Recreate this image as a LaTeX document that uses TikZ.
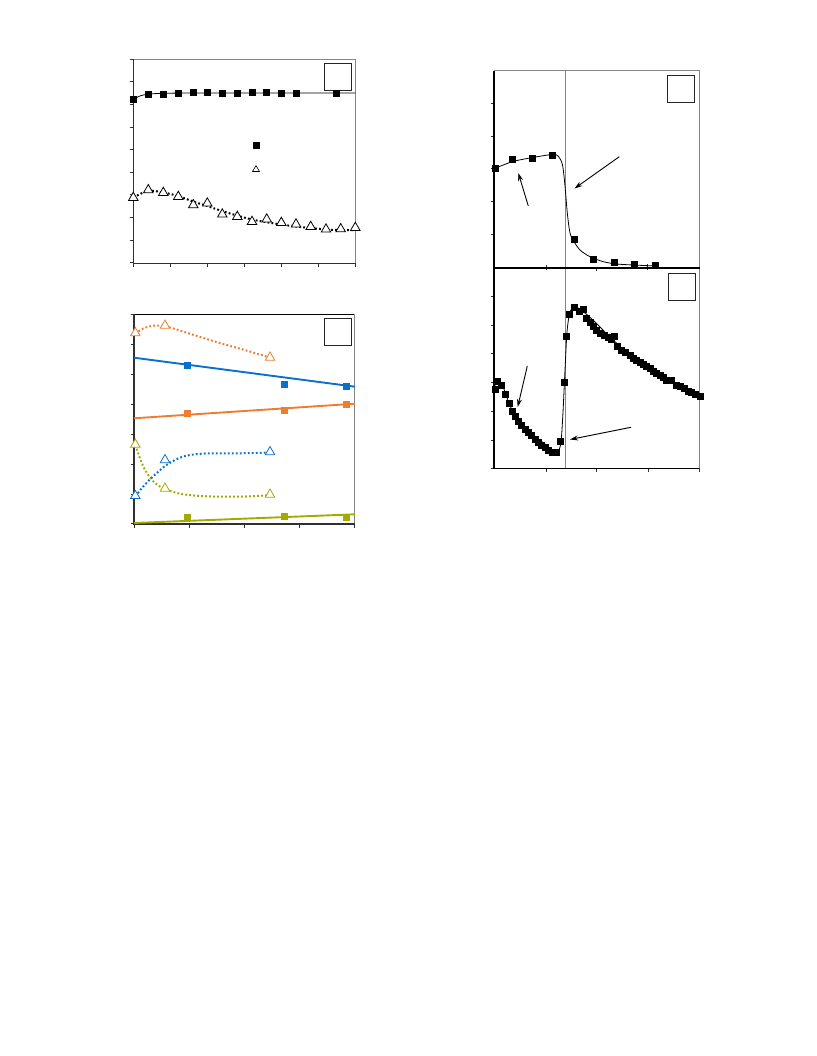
\documentclass[tikz,border=0pt]{standalone}
\usetikzlibrary{shapes.geometric,arrows.meta}
\definecolor{cOr}{HTML}{ED7D31}
\definecolor{cBl}{HTML}{0A70C8}
\definecolor{cOl}{HTML}{A3AA00}
\definecolor{axdark}{HTML}{303030}
\definecolor{frgray}{HTML}{858585}
\tikzset{
  sq/.style={rectangle,fill=#1,minimum size=7pt,inner sep=0pt},
  sq/.default=black,
  tri/.style={regular polygon,regular polygon sides=3,draw=#1,fill=white,line width=0.8pt,minimum size=11pt,inner sep=0pt},
  tri/.default=black,
  axisline/.style={draw=axdark,line width=1.2pt},
  frameline/.style={draw=frgray,line width=1pt},
  tickline/.style={draw=axdark,line width=0.8pt},
  fitline/.style={line width=1.9pt},
  dotline/.style={line width=2pt,dash pattern=on 1.8pt off 2.2pt},
  legbox/.style={draw=black!85,line width=1pt,fill=white,minimum size=27pt,inner sep=0pt},
  arr/.style={line width=0.9pt,-{Stealth[length=8pt,width=5pt]}},
}
\begin{document}
\begin{tikzpicture}[x=1pt,y=-1pt]
\useasboundingbox (0,0) rectangle (816,1056);

% ================= Plot 1 (top left) =================
\draw[frameline] (133.3,59.3) -- (355.5,59.3) -- (355.5,263.3);
\foreach \yy in {59.3,81.9,104.5,127.1,149.7,172.3,194.9,217.5,240.1,262.7}
  \draw[tickline] (129.8,\yy) -- (133.3,\yy);
\foreach \xx in {133.3,170.3,207.3,244.3,281.3,318.3,355.3}
  \draw[tickline] (\xx,263.3) -- (\xx,266.8);
\draw[axisline] (133.3,59.3) -- (133.3,263.3) -- (355.5,263.3);
\node[legbox] (leg1) at (337.7,76.7) {};
% square series fit
\draw[black,line width=0.8pt] plot[smooth,tension=0.5] coordinates {(133.3,99.3)(141,95.6)(150,94)(165,93.3)(200,93)(355.5,93)};
% triangle series fit
\draw[black,dotline] plot[smooth,tension=0.6] coordinates {(133.5,197.5)(148,191)(163,192.5)(178,196)(193,201.5)(207,206)(222,211)(237,215.5)(252,219.5)(267,222.3)(281,224.5)(296,226.5)(311,228)(326,229.5)(341,230)(355,230)};
\foreach \xx/\yy [count=\i] in {133.3/99.3,148.3/94.3,163.3/94.3,178.3/93.3,193.3/92.7,207.3/92.7,222.3/93.3,237.3/94,252/92.3,266.7/92.3,281.3/93.3,296/94,336.7/94}
  \node[sq] (s1\i) at (\xx,\yy) {};
\foreach \xx/\yy [count=\i] in {133.3/197.7,148.3/190,163.3/192.7,178.3/196.7,193.3/205,207.3/203.3,222.3/214.3,237.3/216.7,252/221.7,266.7/219.3,281.3/222.7,296/224.3,310.7/226.7,326/229.3,340.7/229,355.3/227.7}
  \node[tri] (t1\i) at (\xx,\yy) {};
\node[sq] (ls1) at (256,146) {};
\node[tri,minimum size=8pt,line width=0.6pt] (lt1) at (256,169.5) {};

% ================= Plot 2 (bottom left) =================
\draw[draw=black,line width=1pt] (134,314.3) -- (354.5,314.3);
\draw[frameline] (354.5,314.3) -- (354.5,524);
\foreach \yy in {314.3,344.3,374.3,404.2,434.1,464,494,523.8}
  \draw[tickline] (130.5,\yy) -- (134,\yy);
\foreach \xx in {134,189.2,244.4,299.6,354.8}
  \draw[tickline] (\xx,524) -- (\xx,527.8);
\draw[axisline] (134,314.3) -- (134,524) -- (354.8,524);
\node[legbox] (leg2) at (337.7,332.3) {};
% solid fits
\draw[cBl,fitline] (134,357.7) -- (355,386.7);
\draw[cOr,fitline] (134,418.3) -- (355,403.7);
\draw[cOl,fitline] (134,523) -- (355,514.3);
% dotted fits
\draw[cOr,dotline] plot[smooth,tension=0.6] coordinates {(135.5,334)(141,329.5)(150,326.3)(160,325.5)(170,327.5)(185,332.2)(205,338.5)(225,344.5)(248,351)(270,357.7)};
\draw[cOl,dotline] plot[smooth,tension=0.6] coordinates {(135.5,445)(138.3,453.5)(142,463.5)(147,473.3)(155,483)(165,489)(178.3,493.3)(191.7,495.3)(211.7,496.5)(231.7,496.7)(251.7,496.3)(270,495)};
\draw[cBl,dotline] plot[smooth,tension=0.6] coordinates {(135.5,496.5)(141.7,488.3)(150,479.3)(158.3,471.7)(165,466)(175,460)(185,456)(198.3,454)(211.7,453.3)(240,453.3)(270,452.5)};
% markers
\foreach \xx/\yy [count=\i] in {187.3/365.3,284.3/384.3,346.7/386.3}
  \node[sq=cBl] (sb\i) at (\xx,\yy) {};
\foreach \xx/\yy [count=\i] in {187.3/413.5,284.3/410,346.7/404.3}
  \node[sq=cOr] (so\i) at (\xx,\yy) {};
\foreach \xx/\yy [count=\i] in {187.3/517.5,284.3/516.3,346.7/517}
  \node[sq=cOl] (sg\i) at (\xx,\yy) {};
\foreach \xx/\yy [count=\i] in {135.3/333,165/325.5,270/357.5}
  \node[tri=cOr] (to\i) at (\xx,\yy) {};
\foreach \xx/\yy [count=\i] in {135.3/444.5,165/488.5,270/494.5}
  \node[tri=cOl] (tg\i) at (\xx,\yy) {};
\foreach \xx/\yy [count=\i] in {135.3/495.8,165/460,270/452}
  \node[tri=cBl] (tb\i) at (\xx,\yy) {};

% ================= Plots 3 and 4 (right) =================
\draw[frameline] (494,70.7) -- (699,70.7) -- (699,468.3);
\draw[frameline] (565,70.7) -- (565,468.3);
\foreach \yy in {103.4,136.1,168.8,201.5,234.2}
  \draw[tickline] (490.5,\yy) -- (494,\yy);
\foreach \yy in {296.4,325.1,353.8,382.5,411.2,439.9,468.3}
  \draw[tickline] (490.5,\yy) -- (494,\yy);
\draw[tickline] (546,265) -- (546,270.5);
\draw[tickline] (596.3,267.5) -- (596.3,271.5);
\draw[tickline] (647.3,264.5) -- (647.3,270.5);
\foreach \xx in {546,596.3,648,699}
  \draw[tickline] (\xx,468.3) -- (\xx,472);
\draw[axisline,draw=black] (494,70.7) -- (494,468.3) -- (699,468.3);
\draw[black,line width=2pt] (494,267.7) -- (700,267.7);
\node[legbox] (leg3) at (681.3,89) {};
\node[legbox] (leg4) at (682,287) {};
% plot 3 curve
\draw[black,line width=0.8pt] plot[smooth,tension=0.5] coordinates {(494,168.8)(512.3,161.7)(532.7,157.5)(552.7,154.5)(558.5,156.5)(562.5,165)(565,186)(567.3,213)(570,233)(574,241.5)(580,250)(590,256.7)(603.3,261.7)(616.7,264)(633.3,265)(655.3,266)};
\foreach \xx/\yy [count=\i] in {495/168.3,512.3/159.3,532.7/158.3,552.7/156,574/239.3,593.7/260,614.7/262.7,634.3/264.7,655.3/266}
  \node[sq] (s3\i) at (\xx,\yy) {};
\coordinate (a1s) at (528.3,206);
\coordinate (a1e) at (518.3,173);
\coordinate (a2s) at (619.3,156.7);
\coordinate (a2e) at (574.5,188.5);
\draw[arr] (a1s) -- (a1e);
\draw[arr] (a2s) -- (a2e);
% plot 4 curve
\draw[black,line width=0.8pt] plot[smooth,tension=0.5] coordinates {(494,387)(498,382)(503,387)(507,398)(512,410)(518,419.5)(526,428.5)(536,437)(546,445)(554,451.5)(558,451.5)(561,442)(563,412)(565,370)(567,332)(569.5,314)(573,307.5)(578,308)(585,313)(595,322)(610,337)(630,355)(650,370)(670,382)(699,396.7)};
\foreach \xx/\yy [count=\i] in {495/389.3,497.3/381.7,501.7/385,505/394.3,509/403.3,512.3/411.7,515.7/416.7,518.3/421.7,521.7/425.7,525/429.3,528.3/432.3,531.7/435.7,535/439,538.3/442,541.7/445,545/447.7,548.3/450,552.7/452.3,556.7/452.7,560/441.7,564/382.7,566.7/336.7,569.3/314.3,574/307.7,579.3/311.7,583.3/309,586/318.3,590/322.7,593.3/326.7,596.7/330,600/333.3,604/335,608.3/337.3,611.7/339.3,614.7/336,617.3/346,621.7/350,625.7/352.7,630/355,633.3/358,636.7/360,640/362.7,643.3/364.7,646.7/366.7,650/368.7,653.3/371.3,656.7/373.3,660/375.3,663.3/377.7,666.7/380,671.7/380.7,676.7/385,680/386,684/388.3,688.3/391,691.7/392.7,695/394.3,700/396.7}
  \node[sq] (s4\i) at (\xx,\yy) {};
\coordinate (a3s) at (527.3,366);
\coordinate (a3e) at (517.7,407);
\coordinate (a4s) at (631,427.3);
\coordinate (a4e) at (570,439.5);
\draw[arr] (a3s) -- (a3e);
\draw[arr] (a4s) -- (a4e);
\end{tikzpicture}
\end{document}
